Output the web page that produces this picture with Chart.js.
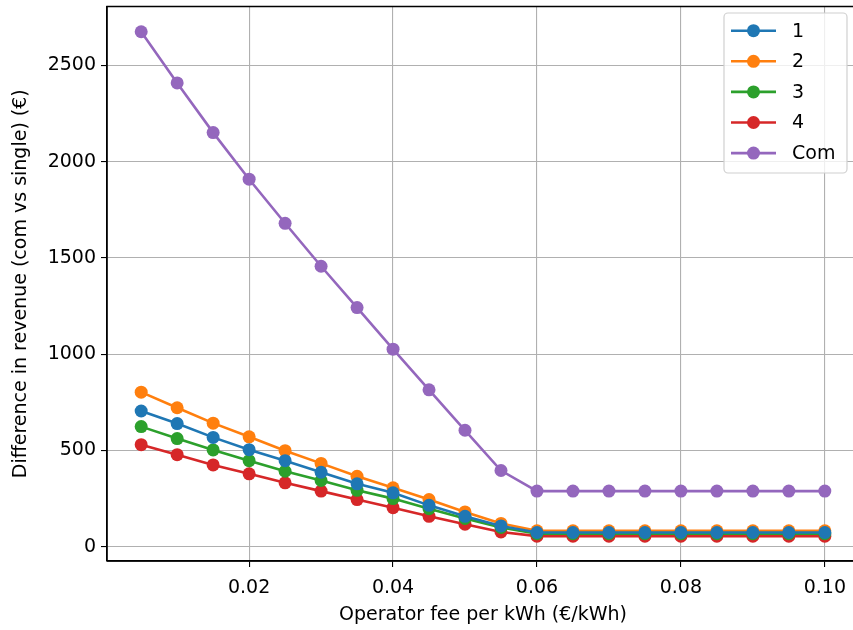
<!DOCTYPE html>
<html>
<head>
<meta charset="utf-8">
<script src="https://cdn.jsdelivr.net/npm/chart.js@4.4.0/dist/chart.umd.min.js"></script>
<style>
  html, body { margin: 0; padding: 0; background: #fff; overflow: hidden; }
  #wrap { position: relative; width: 853px; height: 630px; overflow: hidden; }
  #c { display: block; }
</style>
</head>
<body>
<div id="wrap"><canvas id="c" width="870" height="630" style="width:870px;height:630px"></canvas></div>
<script>
const fees = [0.005, 0.010, 0.015, 0.020, 0.025, 0.030, 0.035, 0.040, 0.045, 0.050,
              0.055, 0.060, 0.065, 0.070, 0.075, 0.080, 0.085, 0.090, 0.095, 0.100];
const series1 = [705, 640, 568, 504, 447, 387, 327, 280, 215, 158, 108, 74, 74, 74, 74, 74, 74, 74, 74, 74];
const series2 = [803, 722, 642, 571, 499, 433, 366, 306, 245, 181, 121, 83, 83, 83, 83, 83, 83, 83, 83, 83];
const series3 = [624, 562, 503, 447, 392, 344, 293, 250, 198, 147, 100, 68, 68, 68, 68, 68, 68, 68, 68, 68];
const series4 = [530, 478, 425, 379, 332, 289, 245, 203, 158, 117, 77, 55, 55, 55, 55, 55, 55, 55, 55, 55];
const seriesCom = [2675, 2409, 2151, 1909, 1680, 1457, 1242, 1026, 815, 605, 396, 289, 289, 289, 289, 289, 289, 289, 289, 289];
const seriesNames = ['1', '2', '3', '4', 'Com'];
const seriesColors = ['#1f77b4', '#ff7f0e', '#2ca02c', '#d62728', '#9467bd'];
const xTickValues = [0.02, 0.04, 0.06, 0.08, 0.10];
const yTickValues = [0, 500, 1000, 1500, 2000, 2500];
const xTitle = 'Operator fee per kWh (€/kWh)';
const yTitle = 'Difference in revenue (com vs single) (€)';

const FONT = "'DejaVu Sans', sans-serif";
const allSeries = [series1, series2, series3, series4, seriesCom];

const datasets = allSeries.map((vals, i) => ({
  label: seriesNames[i],
  data: fees.map((x, j) => ({ x: x, y: vals[j] })),
  borderColor: seriesColors[i],
  backgroundColor: seriesColors[i],
  pointBackgroundColor: seriesColors[i],
  pointBorderColor: seriesColors[i],
  borderWidth: 2.6,
  pointRadius: 6.5,
  pointBorderWidth: 0,
  pointHoverRadius: 6.5,
  tension: 0,
  clip: false
}));

const frameAndLegend = {
  id: 'frameAndLegend',
  afterDraw(chart) {
    const ctx = chart.ctx;
    const a = chart.chartArea;
    ctx.save();
    ctx.strokeStyle = '#000';
    ctx.lineWidth = 1.4;
    ctx.beginPath();
    ctx.moveTo(a.left, a.bottom);
    ctx.lineTo(a.left, a.top);
    ctx.lineTo(a.right, a.top);
    ctx.lineTo(a.right, a.bottom);
    ctx.lineTo(a.left, a.bottom);
    ctx.stroke();

    const bx = 724, by = 13, bw = 123, bh = 160, r = 4;
    ctx.globalAlpha = 0.8;
    ctx.fillStyle = '#fff';
    ctx.beginPath();
    ctx.roundRect(bx, by, bw, bh, r);
    ctx.fill();
    ctx.globalAlpha = 1;
    ctx.strokeStyle = '#d0d0d0';
    ctx.lineWidth = 1.2;
    ctx.stroke();

    ctx.font = '19px ' + FONT;
    ctx.textBaseline = 'middle';
    ctx.textAlign = 'left';
    chart.data.datasets.forEach((ds, i) => {
      const yy = 30.7 + i * 30.6;
      ctx.strokeStyle = ds.borderColor;
      ctx.lineWidth = 2.6;
      ctx.beginPath();
      ctx.moveTo(731, yy);
      ctx.lineTo(776, yy);
      ctx.stroke();
      ctx.fillStyle = ds.borderColor;
      ctx.beginPath();
      ctx.arc(753.5, yy, 6.5, 0, Math.PI * 2);
      ctx.fill();
      ctx.fillStyle = '#000';
      ctx.fillText(ds.label, 792, yy + 1);
    });
    ctx.restore();
  }
};

new Chart(document.getElementById('c'), {
  type: 'line',
  data: { datasets: datasets },
  options: {
    responsive: false,
    animation: false,
    devicePixelRatio: 1,
    layout: { padding: { top: 3, right: 11, left: 0, bottom: 0 } },
    plugins: {
      legend: { display: false },
      tooltip: { enabled: false }
    },
    scales: {
      x: {
        type: 'linear',
        min: 0.00025,
        max: 0.10475,
        afterBuildTicks: (s) => { s.ticks = xTickValues.map(v => ({ value: v })); },
        afterFit: (s) => { s.height = 69; s.paddingLeft = 0; s.paddingRight = 0; },
        border: { display: true, color: '#000', width: 1.4 },
        grid: { color: '#b0b0b0', lineWidth: 1.1, tickColor: '#000', tickLength: 6, drawTicks: true },
        ticks: {
          color: '#000',
          font: { family: FONT, size: 19 },
          padding: 10,
          maxRotation: 0,
          autoSkip: false,
          callback: (v) => Number(v).toFixed(2)
        },
        title: {
          display: true,
          text: xTitle,
          color: '#000',
          font: { family: FONT, size: 19 },
          padding: { top: 2, bottom: 4 }
        }
      },
      y: {
        type: 'linear',
        min: -74,
        max: 2806,
        afterBuildTicks: (s) => { s.ticks = yTickValues.map(v => ({ value: v })); },
        afterFit: (s) => { s.width = 107; s.paddingTop = 0; s.paddingBottom = 0; },
        border: { display: true, color: '#000', width: 1.4 },
        grid: { color: '#b0b0b0', lineWidth: 1.1, tickColor: '#000', tickLength: 6, drawTicks: true },
        ticks: {
          color: '#000',
          font: { family: FONT, size: 19 },
          padding: 5,
          autoSkip: false,
          callback: (v) => String(v)
        },
        title: {
          display: true,
          text: yTitle,
          color: '#000',
          font: { family: FONT, size: 19 },
          padding: { top: 10, bottom: 6 }
        }
      }
    }
  },
  plugins: [frameAndLegend]
});
</script>
</body>
</html>
